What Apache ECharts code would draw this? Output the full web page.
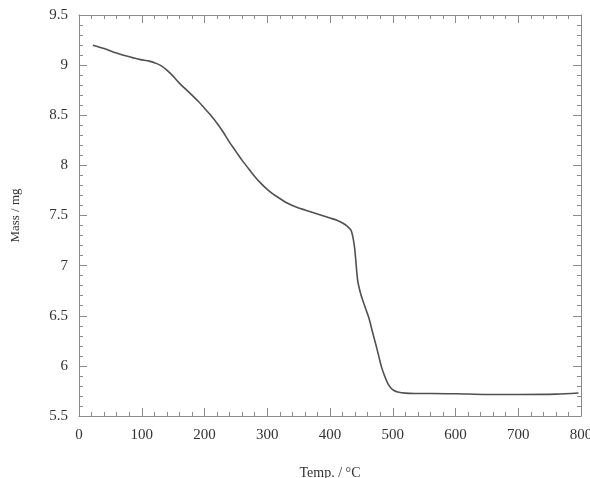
<!DOCTYPE html>
<html>
<head>
<meta charset="utf-8">
<script src="https://cdn.jsdelivr.net/npm/echarts@6/dist/echarts.min.js"></script>
<style>
html,body{margin:0;padding:0;background:#fff;}
#chart{width:590px;height:478px;}
</style>
</head>
<body>
<div id="chart"></div>
<script>
// Temperature (°C) and mass (mg)
var temps = [22, 40, 60, 71, 85, 98, 112, 124, 132, 140, 150, 160, 170, 180, 190, 200, 210, 220, 230, 240, 250, 260, 270, 280, 290, 300, 310, 320, 330, 340, 350, 360, 370, 380, 390, 400, 410, 420, 428, 434, 439, 444, 448, 452, 458, 463, 468, 474, 478, 482, 487, 492, 497, 502, 508, 520, 535, 562, 600, 652, 700, 760, 796];
var masses = [9.198, 9.165, 9.12, 9.098, 9.075, 9.055, 9.04, 9.015, 8.99, 8.95, 8.89, 8.82, 8.76, 8.70, 8.64, 8.57, 8.50, 8.42, 8.33, 8.23, 8.14, 8.05, 7.97, 7.89, 7.82, 7.76, 7.71, 7.67, 7.63, 7.60, 7.575, 7.555, 7.535, 7.515, 7.495, 7.475, 7.455, 7.425, 7.39, 7.345, 7.187, 6.855, 6.74, 6.656, 6.55, 6.456, 6.33, 6.19, 6.09, 5.99, 5.90, 5.825, 5.78, 5.755, 5.74, 5.728, 5.725, 5.725, 5.722, 5.715, 5.715, 5.718, 5.73];
var xName = 'Temp. / °C';
var yName = 'Mass / mg';

var points = temps.map(function (t, i) { return [t, masses[i]]; });
var font = 'Liberation Serif';
var axisColor = '#8a8a8a';
var textColor = '#333';

function axisBase(extra) {
  var base = {
    type: 'value',
    axisLine: { show: true, onZero: false, lineStyle: { color: axisColor, width: 1 } },
    axisTick: { show: true, inside: true, length: 8, lineStyle: { color: axisColor } },
    minorTick: { show: true, splitNumber: 5, length: 4, lineStyle: { color: axisColor } },
    splitLine: { show: false },
    minorSplitLine: { show: false }
  };
  for (var k in extra) base[k] = extra[k];
  return base;
}

var chart = echarts.init(document.getElementById('chart'), null, { renderer: 'canvas' });
chart.setOption({
  backgroundColor: '#fff',
  animation: false,
  grid: { left: 79, right: 9, top: 15, bottom: 62, containLabel: false, outerBoundsMode: 'none' },
  xAxis: [
    axisBase({
      min: 0, max: 800, interval: 100, position: 'bottom',
      name: xName, nameLocation: 'middle', nameGap: 50,
      nameTextStyle: { fontFamily: font, fontSize: 14, color: textColor },
      axisLabel: { fontFamily: font, fontSize: 15, color: textColor, margin: 12 }
    }),
    axisBase({
      min: 0, max: 800, interval: 100, position: 'top',
      axisLabel: { show: false }
    })
  ],
  yAxis: [
    axisBase({
      min: 5.5, max: 9.5, interval: 0.5, position: 'left',
      name: yName, nameLocation: 'middle', nameGap: 57,
      nameTextStyle: { fontFamily: font, fontSize: 13, color: textColor },
      axisLabel: { fontFamily: font, fontSize: 15, color: textColor, margin: 11 }
    }),
    axisBase({
      min: 5.5, max: 9.5, interval: 0.5, position: 'right',
      axisLabel: { show: false }
    })
  ],
  series: [{
    type: 'line',
    data: points,
    xAxisIndex: 0,
    yAxisIndex: 0,
    showSymbol: false,
    smooth: 0.3,
    lineStyle: { color: '#505050', width: 1.6 }
  }]
});
</script>
</body>
</html>
